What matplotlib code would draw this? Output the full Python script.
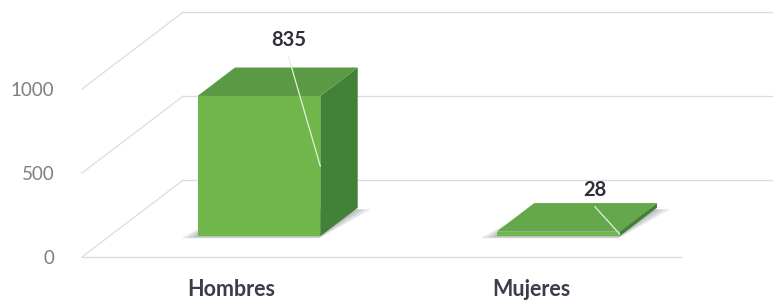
import matplotlib
matplotlib.use("Agg")
import matplotlib.pyplot as plt
from matplotlib.patches import Polygon

categories = ["Hombres", "Mujeres"]
values = [835, 28]
y_ticks = [0, 500, 1000]

plt.rcParams['font.family'] = ['Lato', 'DejaVu Sans']

# fake 3d: depth d in [0, 1] shifts a point right and up
OX = 0.338
OY = 458
d0, d1 = 0.27, 0.64   # bar depth inside the floor
hw = 0.205            # half width of a bar
x_lo, x_hi = -0.5, 1.5

front_c = "#70b64b"
top_c = "#5a9a44"
side_c = "#418236"
grid_c = "#dcdcdc"


def P(c, d, v):
    return (c + d * OX, v + d * OY)


fig = plt.figure(figsize=(7.73, 3.04), dpi=100)
ax = fig.add_axes([82 / 773, 47 / 304, 691 / 773, 257 / 304])
ax.set_xlim(-0.5, 1.809)
ax.set_ylim(0, 1530)

# walls and floor
for t in y_ticks:
    ax.plot(*zip(P(x_lo, 0, t), P(x_lo, 1, t)), color=grid_c, lw=0.9, clip_on=False)
    ax.plot(*zip(P(x_lo, 1, t), P(x_hi + 0.2, 1, t)), color=grid_c, lw=0.9, clip_on=False)
ax.plot(*zip(P(x_lo, 0, 0), P(x_hi, 0, 0)), color=grid_c, lw=1.0, clip_on=False)

# bars
for i, v in enumerate(values):
    c = i
    # soft shadow round the base
    for g in [0.05, 0.03, 0.012]:
        sh = [P(c - hw - g, d0 - 0.01, -g * 150), P(c + hw, d0 - 0.01, -g * 150),
              P(c + hw + g, d1 - 0.02, 0), P(c - hw, d1 - 0.02, 0)]
        ax.add_patch(Polygon(sh, closed=True, color="#3c4450", alpha=0.13, lw=0, zorder=2))
    side = [P(c + hw, d0, 0), P(c + hw, d1, 0), P(c + hw, d1, v), P(c + hw, d0, v)]
    top = [P(c - hw, d0, v), P(c + hw, d0, v), P(c + hw, d1, v), P(c - hw, d1, v)]
    front = [P(c - hw, d0, 0), P(c + hw, d0, 0), P(c + hw, d0, v), P(c - hw, d0, v)]
    ax.add_patch(Polygon(side, closed=True, color=side_c, lw=0, zorder=3))
    ax.add_patch(Polygon(top, closed=True, color=top_c if v > 100 else "#64a84b", lw=0, zorder=3))
    ax.add_patch(Polygon(front, closed=True, color=front_c, lw=0, zorder=3))

# data labels with leader lines
label_dx = [0.19, 0.214]
label_dy = [457, 371]
for i, v in enumerate(values):
    lx, ly = P(i + label_dx[i], 0, v + label_dy[i])
    ax.text(lx, ly, str(v), ha="center", va="center", fontsize=14.5,
            fontweight="bold", color="#2e2f3a", zorder=5)
    ex, ey = P(i + hw, d0, v / 2)
    ax.plot([lx, ex], [ly - 100, ey], color="#e6eede", lw=0.9, zorder=4)

ax.set_xticks(range(len(categories)))
ax.set_xticklabels(categories, fontsize=15.5, fontweight="bold", color="#3a3d4a")
ax.set_yticks(y_ticks)
ax.set_yticklabels([str(t) for t in y_ticks], fontsize=13.5, color="#7f7f7f")
ax.tick_params(axis="x", length=0, pad=16)
ax.tick_params(axis="y", length=0, pad=20)
for s in ax.spines.values():
    s.set_visible(False)

fig.savefig("out.png", dpi=100)
